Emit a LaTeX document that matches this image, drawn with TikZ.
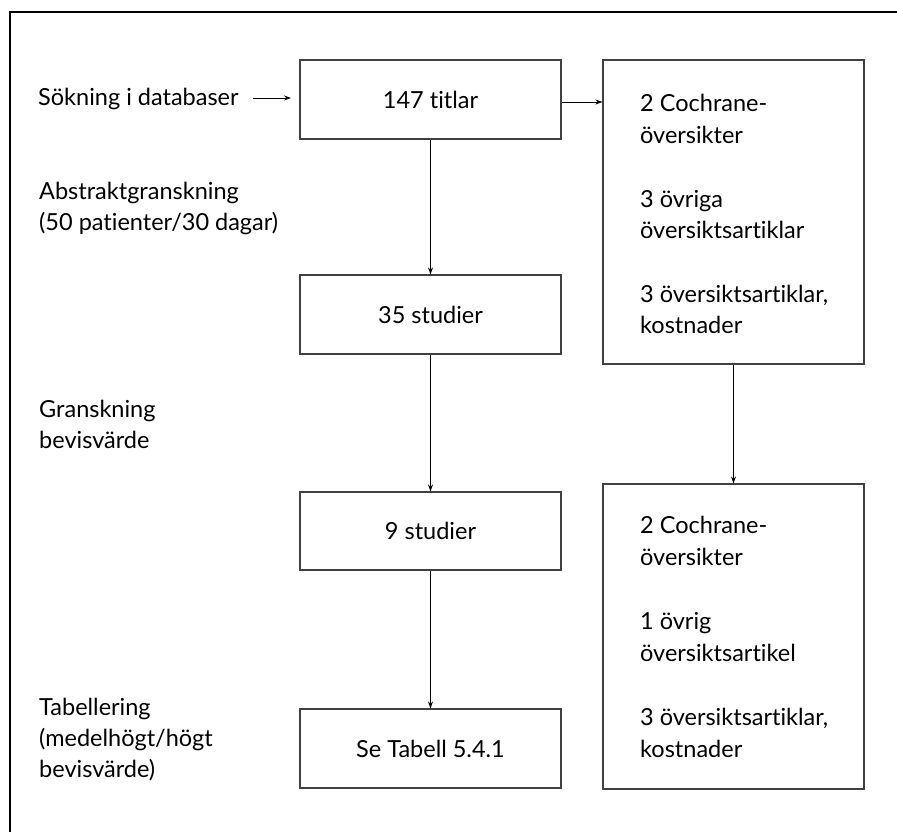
\documentclass[tikz,border=0pt]{standalone}
\usepackage{fontspec}
\setmainfont[Ligatures=NoCommon]{Lato}
\usetikzlibrary{arrows.meta}
\begin{document}
\begin{tikzpicture}[x=1pt,y=-1pt,
  box/.style={draw=black!75, line width=1.1pt, minimum width=261pt, inner sep=0pt, font=\fontsize{23.5}{28}\selectfont},
  txt/.style={anchor=base west, inner sep=0pt, font=\fontsize{23.5}{28}\selectfont},
  arr/.style={line width=0.9pt, -{Stealth[length=7pt,width=5pt]}},
  frame/.style={line width=1.2pt}]
\useasboundingbox (0,0) rectangle (897,832);
\coordinate (ftr) at (897,12);
\coordinate (ftl) at (10,12);
\coordinate (fbl) at (10,832);
\draw[frame] (ftr) -- (ftl) -- (fbl);

\node[box, minimum height=79pt] (b1) at (430.5,99.5) {147 titlar};
\node[box, minimum height=79pt] (b2) at (430.5,314.5) {35 studier};
\node[box, minimum height=78pt] (b3) at (430.5,531) {9 studier};
\node[box, minimum height=79pt] (b4) at (430.5,748.5) {Se Tabell 5.4.1};
\node[box, minimum height=304pt] (r1) at (733.5,212) {};
\node[box, minimum height=305pt] (r2) at (733.5,636.5) {};

% left labels
\node[txt] (l1) at (38,106) {Sökning i databaser};
\node[txt] (l2a) at (39,199) {Abstraktgranskning};
\node[txt] (l2b) at (39,230) {(50 patienter/30 dagar)};
\node[txt] (l3a) at (39,417) {Granskning};
\node[txt] (l3b) at (39,448) {bevisvärde};
\node[txt] (l4a) at (39,715) {Tabellering};
\node[txt] (l4b) at (39,746) {(medelhögt/högt};
\node[txt] (l4c) at (39,777) {bevisvärde)};

% right box 1 text
\node[txt] (r1a) at (640,112) {2 Cochrane-};
\node[txt] (r1b) at (640,143) {översikter};
\node[txt] (r1c) at (640,207) {3 övriga};
\node[txt] (r1d) at (640,238) {översiktsartiklar};
\node[txt] (r1e) at (640,302) {3 översiktsartiklar,};
\node[txt] (r1f) at (640,333) {kostnader};

% right box 2 text
\node[txt] (r2a) at (640,533) {2 Cochrane-};
\node[txt] (r2b) at (640,565) {översikter};
\node[txt] (r2c) at (640,629) {1 övrig};
\node[txt] (r2d) at (640,661) {översiktsartikel};
\node[txt] (r2e) at (640,725) {3 översiktsartiklar,};
\node[txt] (r2f) at (640,757) {kostnader};

% arrows
\coordinate (a0s) at (253,98);
\coordinate (a0e) at (291,98);
\draw[arr] (a0s) -- (a0e);
\draw[arr] (b1.east |- 0,102) -- (r1.west |- 0,102);
\draw[arr] (b1) -- (b2);
\draw[arr] (b2) -- (b3);
\draw[arr] (b3) -- (b4);
\draw[arr] (r1) -- (r2);
\end{tikzpicture}
\end{document}
